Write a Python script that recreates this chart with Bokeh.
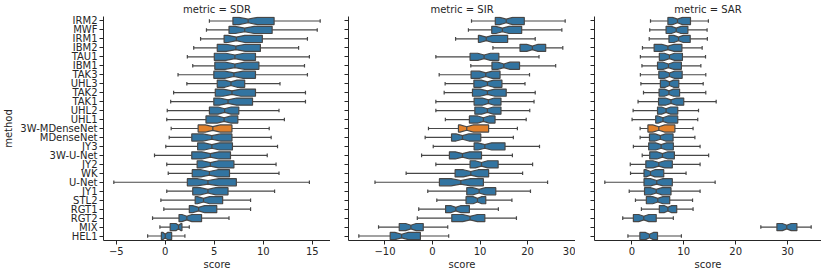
import numpy as np
from bokeh.plotting import figure
from bokeh.layouts import row
from bokeh.models import FactorRange, FixedTicker, Range1d, CustomJSTickFormatter
from bokeh.embed import file_html
from bokeh.resources import INLINE

methods = ["IRM2", "MWF", "IRM1", "IBM2", "TAU1", "IBM1", "TAK3", "UHL3", "TAK2",
           "TAK1", "UHL2", "UHL1", "3W-MDenseNet", "MDenseNet", "JY3", "3W-U-Net",
           "JY2", "WK", "U-Net", "JY1", "STL2", "RGT1", "RGT2", "MIX", "HEL1"]
highlight = "3W-MDenseNet"
n_tracks = 50  # tracks per method (used for notch confidence interval)

# per method: [whisker low, q1, median, q3, whisker high]
sdr = [
    [4.5, 6.9, 8.45, 11.1, 15.8], [4.2, 6.5, 8.1, 10.9, 15.5], [3.6, 6.0, 7.25, 9.9, 14.5],
    [2.9, 5.3, 7.2, 9.7, 13.6], [2.25, 5.0, 7.1, 9.2, 14.7], [2.8, 5.05, 7.1, 9.55, 14.2],
    [1.3, 4.95, 7.0, 9.2, 14.5], [2.2, 5.3, 6.7, 8.1, 11.7], [0.85, 5.1, 6.8, 9.2, 14.3],
    [0.55, 4.95, 6.4, 8.9, 14.3], [0.2, 4.5, 6.05, 7.5, 11.6], [0.15, 4.15, 6.0, 7.4, 12.15],
    [0.6, 3.35, 4.85, 6.8, 10.6], [0.4, 2.7, 4.75, 6.8, 10.8], [0.05, 3.3, 4.75, 6.85, 11.45],
    [-1.1, 2.7, 4.6, 6.65, 10.4], [0.15, 3.25, 4.6, 7.0, 11.3], [0.3, 2.75, 4.5, 6.55, 11.6],
    [-5.25, 2.25, 4.35, 7.25, 14.7], [0.15, 2.8, 4.35, 6.4, 11.15], [-0.45, 3.05, 3.9, 5.85, 8.7],
    [-0.15, 2.45, 3.4, 5.25, 8.7], [-1.3, 1.4, 2.2, 3.7, 6.5], [-0.55, 0.5, 1.35, 1.7, 2.45],
    [-1.8, -0.4, 0.0, 0.65, 2.0],
]
sir = [
    [8.2, 13.2, 15.5, 19.3, 27.9], [7.55, 12.45, 14.7, 18.75, 27.2], [4.85, 9.65, 11.3, 15.8, 21.6],
    [12.7, 18.4, 21.0, 23.8, 27.4], [0.7, 7.9, 10.85, 13.95, 22.4], [8.05, 12.5, 15.0, 18.3, 25.9],
    [1.4, 8.1, 11.2, 14.2, 20.4], [2.65, 8.7, 11.55, 14.6, 19.45], [2.45, 8.4, 11.55, 15.5, 21.6],
    [0.7, 8.75, 11.75, 14.4, 21.35], [0.7, 8.9, 11.55, 14.4, 20.45], [2.7, 7.75, 10.7, 13.15, 19.7],
    [-0.85, 5.45, 7.2, 11.8, 17.85], [-1.55, 4.0, 6.3, 10.15, 17.0], [0.15, 8.75, 11.0, 15.25, 22.5],
    [-2.3, 3.55, 6.3, 10.3, 16.8], [0.7, 7.9, 10.3, 13.8, 21.05], [-5.55, 4.75, 8.05, 11.8, 18.95],
    [-12.1, 1.45, 5.95, 10.7, 24.2], [-1.0, 7.2, 9.8, 13.3, 20.6], [0.9, 7.05, 9.45, 11.2, 16.7],
    [-2.9, 2.75, 4.9, 7.75, 13.85], [-3.2, 4.05, 7.9, 11.0, 17.65], [-11.35, -7.0, -4.55, -1.95, 3.2],
    [-15.5, -8.9, -6.5, -2.55, 3.4],
]
sar = [
    [3.6, 6.95, 8.8, 11.3, 14.75], [3.45, 6.6, 8.55, 10.8, 14.5], [3.35, 7.15, 9.0, 11.25, 14.55],
    [2.05, 4.3, 6.95, 9.65, 13.55], [1.65, 5.3, 7.25, 9.75, 14.2], [1.95, 4.95, 7.05, 9.55, 13.3],
    [1.65, 5.2, 7.25, 9.7, 14.25], [1.75, 5.5, 7.25, 9.05, 13.75], [2.25, 5.25, 7.15, 9.2, 14.25],
    [1.2, 5.15, 7.55, 10.0, 16.25], [0.25, 4.95, 6.6, 8.85, 12.85], [0.05, 4.6, 6.0, 8.85, 12.7],
    [1.6, 3.1, 5.2, 8.3, 11.8], [1.6, 3.4, 5.5, 7.95, 12.15], [0.3, 3.25, 5.65, 8.0, 13.15],
    [2.0, 3.45, 5.9, 8.2, 14.8], [-0.3, 2.7, 5.2, 7.8, 13.15], [-0.25, 2.35, 3.6, 6.15, 10.45],
    [-5.2, 2.35, 4.8, 7.8, 16.05], [-0.5, 2.45, 4.7, 7.55, 13.15], [0.7, 2.8, 5.0, 7.3, 11.7],
    [1.85, 5.3, 6.95, 8.65, 11.8], [-1.75, 0.3, 2.3, 4.7, 8.0], [24.85, 27.95, 29.85, 31.8, 34.55],
    [-0.75, 1.55, 3.4, 4.95, 9.55],
]

metric_names = ["SDR", "SIR", "SAR"]
metric_data = [sdr, sir, sar]
x_ticks = [[-5, 0, 5, 10, 15], [-10, 0, 10, 20, 30], [0, 10, 20, 30]]

BLUE = "#3274a1"
ORANGE = "#e1812c"
LINE = "#474747"
INK = "#262626"
FONT = "DejaVu Sans"
FS = "10px"

y_range = FactorRange(factors=list(reversed(methods)))
HALF = 0.4   # half box height (in category units)
NOTCH = 0.2
CAP = 0.2

left_borders = [102, 18, 19]
figs = []
for k, (name, data) in enumerate(zip(metric_names, metric_data)):
    arr = np.array(data, dtype=float)
    lo, hi = arr[:, 0].min(), arr[:, 4].max()
    pad = 0.05 * (hi - lo)
    p = figure(y_range=y_range, x_range=Range1d(lo - pad, hi + pad),
               frame_width=227, height=272, output_backend="svg", toolbar_location=None,
               min_border_left=left_borders[k], min_border_right=0,
               min_border_top=15, min_border_bottom=0,
               title=f"metric = {name}")
    p.title.text_font = FONT
    p.title.text_font_size = FS
    p.title.text_font_style = "normal"
    p.title.text_color = INK
    p.title.align = "center"
    p.title.standoff = 3
    p.title.offset = 0
    p.outline_line_color = None
    p.xgrid.grid_line_color = None
    p.ygrid.grid_line_color = None

    xs, ys, colors = [], [], []
    wx0, wx1, wy = [], [], []
    cx, cy0, cy1 = [], [], []
    mx, my0, my1 = [], [], []
    for m, (w_lo, q1, med, q3, w_hi) in zip(methods, data):
        ci = 1.57 * (q3 - q1) / np.sqrt(n_tracks)
        cilo, cihi = med - ci, med + ci
        xs.append([q1, q1, cilo, med, cihi, q3, q3, cihi, med, cilo, q1])
        offs = [-HALF, HALF, HALF, NOTCH, HALF, HALF, -HALF, -HALF, -NOTCH, -HALF, -HALF]
        ys.append([(m, o) for o in offs])
        colors.append(ORANGE if m == highlight else BLUE)
        wx0 += [w_lo, q3]
        wx1 += [q1, w_hi]
        wy += [m, m]
        cx += [w_lo, w_hi]
        cy0 += [(m, -CAP), (m, -CAP)]
        cy1 += [(m, CAP), (m, CAP)]
        mx.append(med)
        my0.append((m, -NOTCH))
        my1.append((m, NOTCH))

    p.segment(x0=wx0, y0=wy, x1=wx1, y1=wy, line_color=LINE, line_width=1.2)
    p.segment(x0=cx, y0=cy0, x1=cx, y1=cy1, line_color=LINE, line_width=1.2)
    p.patches(xs=xs, ys=ys, fill_color=colors, line_color=LINE, line_width=1.2)
    p.segment(x0=mx, y0=my0, x1=mx, y1=my1, line_color=LINE, line_width=1.2)

    xa = p.xaxis[0]
    xa.ticker = FixedTicker(ticks=x_ticks[k])
    xa.major_label_overrides = {t: (str(t).replace("-", "\u2212")) for t in x_ticks[k]}
    xa.axis_label = "score"
    ya = p.yaxis[0]
    for ax in (xa, ya):
        ax.axis_line_color = INK
        ax.major_tick_line_color = INK
        ax.minor_tick_line_color = None
        ax.major_tick_in = 0
        ax.major_tick_out = 4
        ax.major_label_standoff = 2
        ax.major_label_text_font = FONT
        ax.major_label_text_font_size = FS
        ax.major_label_text_color = INK
        ax.major_label_text_line_height = 1.0
        ax.axis_label_text_font = FONT
        ax.axis_label_text_font_size = FS
        ax.axis_label_text_font_style = "normal"
        ax.axis_label_text_color = INK
        ax.axis_label_text_line_height = 1.0
        ax.axis_label_standoff = 1
    if k == 0:
        ya.axis_label = "method"
        ya.axis_label_standoff = 3
    else:
        # shared y axis: tick marks only, no repeated labels
        ya.formatter = CustomJSTickFormatter(code="return '';")
    figs.append(p)

layout = row(*figs, spacing=0)
open("out.html", "w").write(file_html(layout, INLINE))
